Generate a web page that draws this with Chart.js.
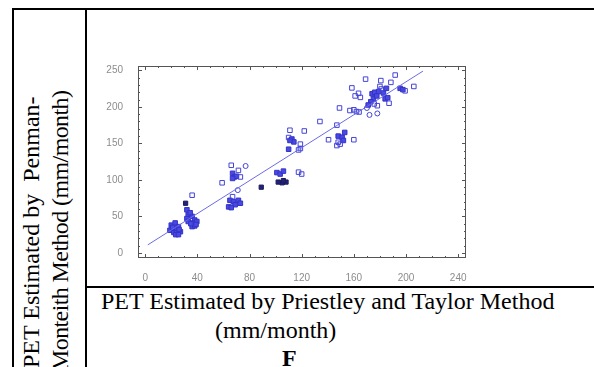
<!DOCTYPE html>
<html>
<head>
<meta charset="utf-8">
<script src="https://cdn.jsdelivr.net/npm/chart.js"></script>
<style>
  body { margin: 0; background: #fff; width: 594px; height: 367px; overflow: hidden; position: relative; }
  .rule { position: absolute; background: #000; }
  .serif { position: absolute; font-family: "Liberation Serif", "Times New Roman", serif; font-size: 24px; line-height: 24px; white-space: nowrap; color: #000; }
  .rot { transform-origin: 0 0; transform: rotate(-90deg); }
  #plot { position: absolute; left: 90px; top: 50px; width: 390px; height: 232px; }
</style>
</head>
<body>
<!-- lignes du tableau -->
<div class="rule" style="left:12px; top:8px; width:582px; height:2px;"></div>
<div class="rule" style="left:12px; top:8px; width:2px; height:359px;"></div>
<div class="rule" style="left:85px; top:8px; width:2px; height:359px;"></div>
<div class="rule" style="left:85px; top:286px; width:509px; height:2px;"></div>

<!-- titre axe Y (vertical) -->
<div class="serif rot" style="left:19px; top:368px;">PET Estimated by&nbsp; Penman-</div>
<div class="serif rot" style="left:48px; top:371px; letter-spacing:-0.6px;">Monteith Method (mm/month)</div>

<!-- titre axe X -->
<div class="serif" style="left:101px; top:289px;">PET Estimated by Priestley and Taylor Method</div>
<div class="serif" style="left:215px; top:318px;">(mm/month)</div>
<div class="serif" style="left:282px; top:346px; font-weight:bold;">F</div>

<canvas id="plot" width="390" height="232"></canvas>

<script>
// Graduations des axes
const xTicks = [0, 40, 80, 120, 160, 200, 240];
const yTicks = [0, 50, 100, 150, 200, 250];

// Points pleins (bleu)
const filledBlue = [
  [20, 38], [23, 41], [19, 31], [22, 28], [24, 31], [25.5, 36], [27, 29], [23.5, 25], [22.5, 34], [25.5, 25], [21, 35], [26, 32],
  [32, 59], [33, 52], [32, 47], [36, 50], [38, 45], [37, 41], [39.6, 43], [36, 36], [38, 37], [33, 43], [34.5, 55], [35, 40], [39, 39],
  [65, 72], [67.7, 70], [71.5, 72], [69, 66], [64, 63], [66, 62], [73, 68],
  [67, 109], [68.5, 104], [70, 105], [67, 102],
  [101, 110], [103.5, 108], [106, 112],
  [112.5, 156], [114, 152], [111, 154], [110, 142],
  [148, 160], [151, 158.5], [153, 165], [152, 154],
  [175, 211], [174, 218], [176, 220], [179, 221], [177.6, 215], [182.7, 219], [185, 225.4], [184, 211], [186, 212.6],
  [173, 207], [171, 202.6], [195.5, 225.4], [197.6, 223.6]
];

// Carrés vides
const openSquares = [
  [36, 79], [59, 96], [66, 120], [73, 104], [71.5, 113], [67, 77],
  [117.6, 110.6], [120, 108],
  [111, 168], [110, 158], [119, 149], [119, 143], [117.6, 141], [122, 167], [134, 180],
  [140.6, 155], [147, 175], [148, 151.6], [149.5, 149], [147, 147], [160, 155],
  [149, 198.5], [158.5, 226], [163.6, 218.6], [165, 213], [169, 238], [160, 196], [162, 193.6], [164, 193],
  [175.6, 204], [178, 201.6], [180.7, 236], [181, 224.5], [187, 205], [188.4, 233.6], [191.7, 243.6],
  [199.3, 222], [206, 228], [157, 195], [161, 215], [180, 228]
];

// Cercles vides
const openCircles = [[77, 119], [71, 86], [178, 191], [170, 198.5], [172, 189]];

// Points sombres
const darkFilled = [[31, 68], [89, 90], [105, 96], [102, 97], [108, 97], [106, 99]];

// Droite de régression
const fitX = [2, 213];
const fitY = [11, 249];

const toXY = arr => arr.map(p => ({ x: p[0], y: p[1] }));

// Cadre + graduations intérieures sur les 4 côtés
const frameTicks = {
  id: 'frameTicks',
  afterDatasetsDraw(chart) {
    const { ctx, chartArea: a, scales: { x, y } } = chart;
    ctx.save();
    ctx.strokeStyle = '#555';
    ctx.lineWidth = 1;
    ctx.strokeRect(a.left + 0.5, a.top + 0.5, a.right - a.left - 1, a.bottom - a.top - 1);
    ctx.beginPath();
    for (let v = 0; v <= 240; v += 10) {
      const px = Math.round(x.getPixelForValue(v)) + 0.5;
      const len = xTicks.includes(v) ? 4 : 2;
      ctx.moveTo(px, a.bottom); ctx.lineTo(px, a.bottom - len);
      ctx.moveTo(px, a.top); ctx.lineTo(px, a.top + len);
    }
    for (let v = 0; v <= 250; v += 10) {
      const py = Math.round(y.getPixelForValue(v)) + 0.5;
      const len = yTicks.includes(v) ? 4 : 2;
      ctx.moveTo(a.left, py); ctx.lineTo(a.left + len, py);
      ctx.moveTo(a.right, py); ctx.lineTo(a.right - len, py);
    }
    ctx.stroke();
    ctx.restore();
  }
};

const tickFont = { family: 'Liberation Sans, Arial, sans-serif', size: 10 };

new Chart(document.getElementById('plot'), {
  type: 'scatter',
  data: {
    datasets: [
      {
        type: 'line',
        data: toXY(fitX.map((v, i) => [v, fitY[i]])),
        borderColor: '#6b6be4',
        borderWidth: 1,
        pointRadius: 0,
        fill: false
      },
      {
        data: toXY(openSquares),
        pointStyle: 'rect',
        pointRadius: 3.2,
        borderColor: '#4444d8',
        backgroundColor: 'rgba(255,255,255,0)',
        borderWidth: 1
      },
      {
        data: toXY(openCircles),
        pointStyle: 'circle',
        pointRadius: 2.5,
        borderColor: '#4444d8',
        backgroundColor: 'rgba(255,255,255,0)',
        borderWidth: 1
      },
      {
        data: toXY(filledBlue),
        pointStyle: 'rect',
        pointRadius: 3.2,
        borderColor: '#3333c8',
        backgroundColor: '#4a4ae2',
        borderWidth: 1
      },
      {
        data: toXY(darkFilled),
        pointStyle: 'rect',
        pointRadius: 3,
        borderColor: '#1c1c5c',
        backgroundColor: '#22227a',
        borderWidth: 1
      }
    ]
  },
  options: {
    responsive: false,
    animation: false,
    devicePixelRatio: 1,
    layout: { padding: { top: 16, right: 14, left: 0, bottom: 0 } },
    plugins: { legend: { display: false }, tooltip: { enabled: false } },
    scales: {
      x: {
        type: 'linear',
        min: -5.5,
        max: 246,
        afterBuildTicks: s => { s.ticks = xTicks.map(v => ({ value: v })); },
        afterFit: s => { s.height = 24; },
        grid: { display: false },
        border: { display: false },
        ticks: { color: '#8c8c8c', font: tickFont, padding: 6, maxRotation: 0, autoSkip: false }
      },
      y: {
        type: 'linear',
        min: -7,
        max: 256,
        afterBuildTicks: s => { s.ticks = yTicks.map(v => ({ value: v })); },
        afterFit: s => { s.width = 48; },
        grid: { display: false },
        border: { display: false },
        ticks: { color: '#8c8c8c', font: tickFont, padding: 7, autoSkip: false }
      }
    }
  },
  plugins: [frameTicks]
});
</script>
</body>
</html>
